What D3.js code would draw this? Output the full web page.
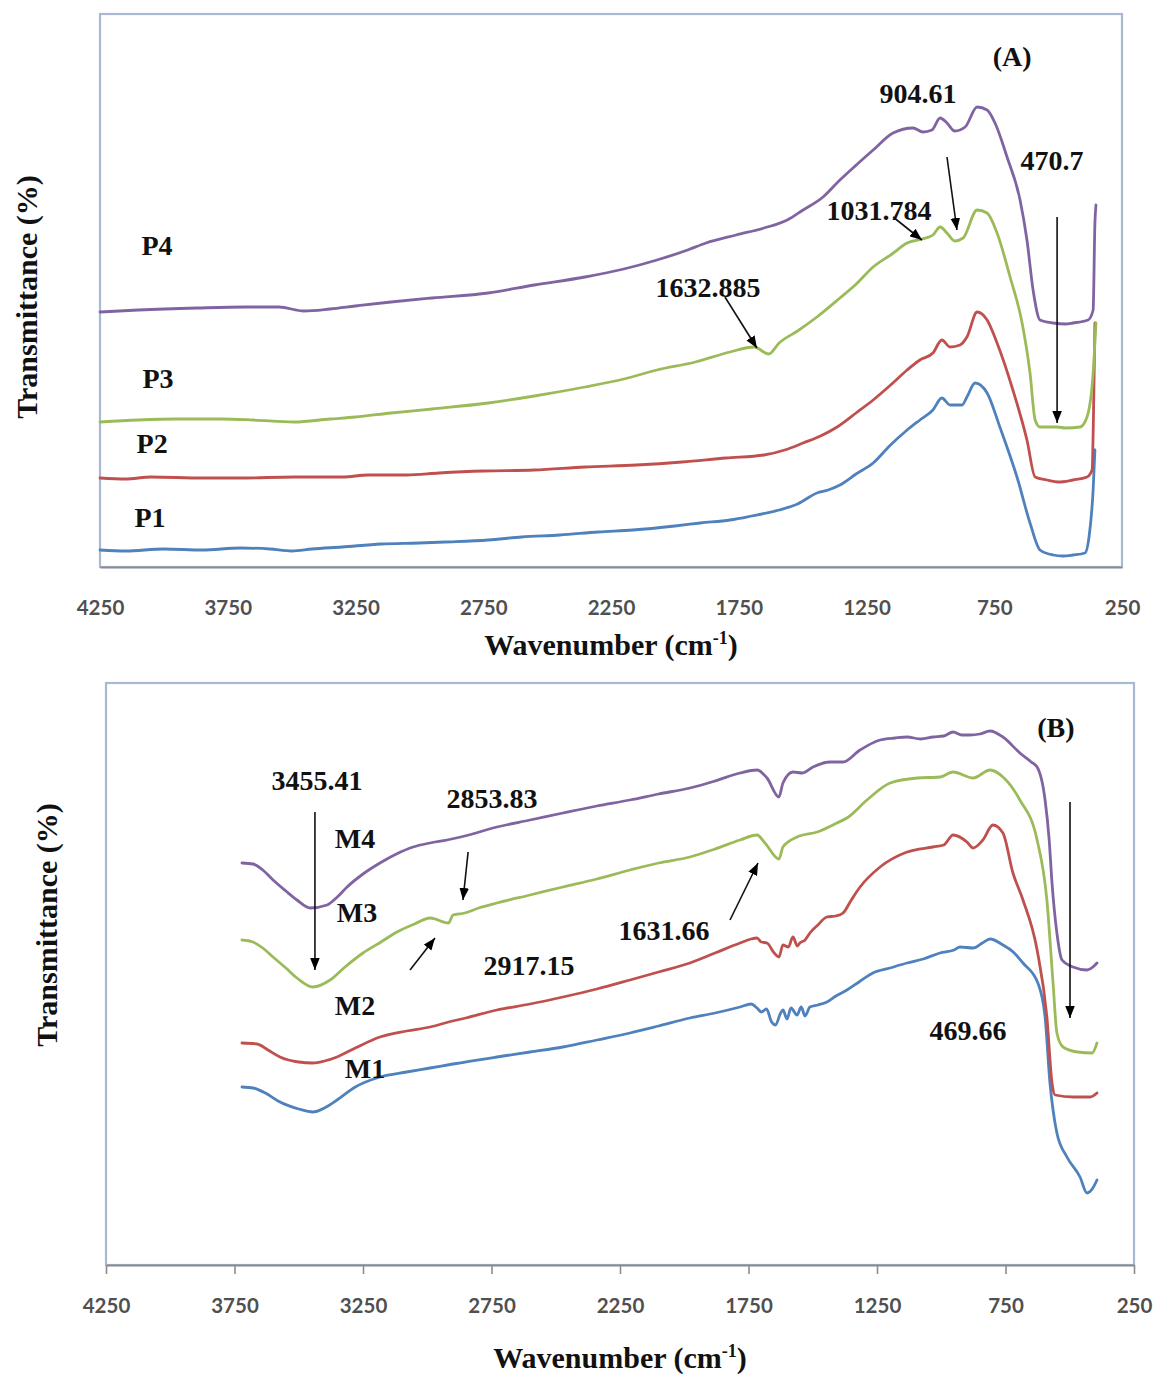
<!DOCTYPE html>
<html>
<head>
<meta charset="utf-8">
<script src="https://cdn.jsdelivr.net/npm/d3@7"></script>
<style>
  body { margin: 0; background: #ffffff; }
  svg { display: block; }
</style>
</head>
<body>
<svg id="chart" width="1159" height="1377"></svg>
<script>
// ---------- data: FTIR spectra, [wavenumber (cm-1), transmittance (offset, a.u.)] ----------
const xTickValues = [4250, 3750, 3250, 2750, 2250, 1750, 1250, 750, 250];

const seriesNamesA = ["P1", "P2", "P3", "P4"];
const seriesNamesB = ["M1", "M2", "M3", "M4"];
const seriesColors = ["#4f81bd", "#c0504d", "#9bbb59", "#8064a2"];

const p1 = [[4250,3.4],[4150,3.2],[4000,3.6],[3850,3.4],[3700,3.8],[3585,3.6],[3500,3.2],[3420,3.6],[3303,4.0],[3150,4.6],[3000,4.8],[2900,5.0],[2731,5.4],[2600,6.0],[2450,6.4],[2300,7.0],[2164,7.4],[2000,8.2],[1900,8.8],[1784,9.4],[1700,10.2],[1592,11.4],[1520,12.6],[1444,14.8],[1400,15.4],[1354,16.4],[1291,18.6],[1224,20.8],[1160,24.2],[1091,27.4],[1041,29.4],[990,31.4],[955,33.8],[923,32.4],[876,32.4],[857,34.0],[825,36.8],[778,34.8],[728,28.0],[661,18.0],[610,8.8],[571,3.4],[520,2.4],[480,2.2],[442,2.4],[395,2.8],[379,6.0],[363,15.4],[356,23.4]];

const p2 = [[4250,17.8],[4150,17.6],[4050,18.0],[3850,17.8],[3700,17.8],[3491,18.0],[3300,18.0],[3200,18.4],[3050,18.4],[2923,18.8],[2750,19.2],[2550,19.4],[2352,20.0],[2150,20.4],[1972,21.0],[1800,21.8],[1651,22.4],[1570,23.4],[1498,24.8],[1430,26.2],[1365,28.0],[1291,30.8],[1224,33.4],[1160,36.2],[1091,39.4],[1041,41.4],[990,42.8],[955,45.4],[923,44.0],[884,44.4],[857,46.0],[817,51.0],[778,49.4],[739,44.8],[677,35.4],[622,25.4],[590,18.0],[544,17.4],[500,17.0],[442,17.4],[387,18.0],[367,19.4],[360,35.4],[356,48.8]];

const p3 = [[4250,29.0],[4100,29.4],[3950,29.6],[3776,29.6],[3650,29.4],[3491,29.0],[3350,29.6],[3250,30.0],[3111,30.8],[2950,31.6],[2731,32.8],[2550,34.2],[2352,36.0],[2200,37.6],[2070,39.4],[1920,41.0],[1784,43.0],[1690,44.0],[1632.885,42.6],[1592,44.8],[1520,47.2],[1444,50.0],[1354,53.8],[1290,56.6],[1224,60.0],[1150,62.6],[1091,64.8],[1031.784,65.6],[990,66.4],[962,68.0],[935,66.8],[904.61,65.2],[872,65.8],[817,71.4],[778,70.8],[739,66.8],[688,58.0],[641,48.8],[610,38.8],[590,29.4],[571,28.0],[504,28.0],[470.7,27.8],[414,28.0],[387,30.0],[363,38.8],[352,48.8]];

const p4 = [[4250,51.0],[4100,51.4],[3870,51.8],[3682,52.0],[3550,52.0],[3452,51.2],[3350,51.6],[3250,52.2],[3111,53.0],[2950,53.8],[2731,54.8],[2550,56.4],[2352,58.0],[2200,59.6],[2070,61.4],[1950,63.4],[1878,64.8],[1760,66.4],[1651,67.8],[1560,69.4],[1498,71.4],[1420,74.0],[1354,77.4],[1290,80.4],[1224,83.4],[1146,86.8],[1068,87.8],[1029,87.0],[994,87.4],[962,89.8],[935,88.8],[904.61,87.2],[864,88.0],[817,92.0],[778,91.4],[747,88.8],[700,82.0],[649,73.4],[622,65.4],[598,55.4],[571,49.4],[520,48.8],[470.7,48.6],[442,48.8],[383,49.4],[363,51.4],[356,68.8],[352,72.4]];

const m1 = [[3721,35.6],[3678,35.4],[3630,34.4],[3573,32.6],[3500,31.2],[3445,30.6],[3400,31.4],[3351,33.0],[3280,35.6],[3184,37.6],[3080,38.6],[2989,39.4],[2900,40.2],[2729,41.6],[2600,42.6],[2472,43.6],[2340,45.0],[2211,46.4],[2100,47.8],[1978,49.4],[1880,50.4],[1783,51.6],[1740,52.2],[1717,51.4],[1700,50.6],[1680,51.2],[1660,48.6],[1645,48.0],[1625,50.4],[1616,51.0],[1600,49.2],[1585,51.4],[1561,50.0],[1545,51.6],[1530,49.8],[1511,51.6],[1480,52.0],[1445,52.6],[1410,53.8],[1367,55.0],[1320,56.6],[1266,58.4],[1200,59.4],[1133,60.4],[1070,61.2],[1005,62.4],[950,63.0],[927,63.6],[876,63.4],[840,64.4],[810,65.2],[760,64.0],[720,62.6],[682,60.4],[624,56.4],[596,49.6],[577,36.4],[565,31.0],[550,26.4],[511,21.6],[460,17.6],[433,14.4],[410,15.4],[394,17.0]];

const m2 = [[3721,44.4],[3662,44.2],[3620,43.0],[3573,41.6],[3500,40.6],[3445,40.4],[3400,40.8],[3351,41.6],[3280,43.4],[3184,45.6],[3080,46.8],[2989,47.6],[2917.15,48.6],[2850,49.4],[2729,51.0],[2600,52.2],[2472,53.6],[2340,55.2],[2211,57.0],[2100,58.6],[1978,60.4],[1880,62.4],[1783,64.4],[1740,65.2],[1717,65.4],[1700,64.6],[1678,64.4],[1650,62.4],[1631.66,61.6],[1616,64.0],[1595,63.6],[1577,65.6],[1560,63.8],[1550,64.4],[1530,65.0],[1511,66.4],[1480,68.0],[1445,69.6],[1410,69.8],[1382,70.4],[1350,73.0],[1316,75.6],[1238,79.6],[1133,82.6],[1032,83.6],[990,84.0],[954,86.0],[900,84.6],[876,83.4],[838,85.0],[799,88.0],[760,86.4],[721,78.4],[682,73.0],[627,63.0],[589,49.6],[569,36.4],[557,34.0],[487,33.6],[421,33.6],[394,34.4]];

const m3 = [[3721,65.0],[3678,64.6],[3640,63.4],[3600,61.6],[3550,59.4],[3507,57.4],[3445,55.6],[3378,57.0],[3320,59.6],[3250,62.4],[3180,64.6],[3118,66.6],[3050,68.2],[2989,69.4],[2917.15,68.4],[2900,70.0],[2853.83,70.4],[2800,71.4],[2729,72.4],[2600,74.0],[2472,75.6],[2340,77.2],[2211,79.0],[2100,80.4],[1978,81.6],[1880,83.2],[1783,85.0],[1717,86.0],[1686,84.4],[1631.66,81.2],[1616,83.6],[1561,85.6],[1483,86.6],[1406,88.4],[1367,89.4],[1289,93.0],[1199,96.4],[1094,97.4],[1005,97.6],[954,98.6],[876,97.4],[810,99.0],[760,97.6],[694,93.0],[627,85.0],[589,73.0],[565,56.4],[550,46.4],[526,43.6],[469.66,42.6],[413,42.4],[394,44.4]];

const m4 = [[3721,80.4],[3678,80.2],[3640,79.0],[3600,77.0],[3550,74.8],[3507,73.0],[3455.41,71.4],[3390,72.0],[3350,73.6],[3312,75.6],[3250,78.2],[3184,80.4],[3120,82.2],[3055,83.6],[2990,84.4],[2923,85.0],[2853.83,85.8],[2729,87.6],[2600,89.0],[2472,90.4],[2340,91.8],[2211,93.0],[2100,94.2],[1978,95.4],[1880,96.8],[1783,98.4],[1717,99.0],[1678,97.4],[1631.66,93.6],[1616,96.4],[1577,98.6],[1540,98.4],[1499,99.6],[1433,100.6],[1382,100.6],[1316,103.0],[1238,105.0],[1180,105.4],[1133,105.6],[1080,105.2],[1032,105.6],[990,105.8],[954,106.6],[920,106.0],[888,106.0],[850,106.2],[810,106.8],[760,105.6],[694,102.4],[650,100.6],[627,99.6],[596,93.0],[580,85.0],[569,76.4],[550,66.4],[530,61.0],[487,59.6],[433,59.0],[410,59.6],[394,60.4]];

// text annotations: [label, wavenumber, value]
const labelsA = [["(A)",680,100.2],["904.61",1048,92.8],["470.7",524,79.4],["1031.784",1201,69.4],["1632.885",1870,54.0],["P4",4027,62.4],["P3",4023,35.8],["P2",4046,22.8],["P1",4054,8.0]];
const labelsB = [["(B)",554,105.6],["3455.41",3429,95.0],["2853.83",2748,91.4],["M4",3281,83.4],["M3",3273,68.6],["2917.15",2604,58.0],["M2",3281,50.0],["M1",3242,37.4],["1631.66",2079,65.0],["469.66",896,45.0]];

// arrows: [fromWavenumber, fromValue, toWavenumber, toValue]
const arrowsA = [[1804,54.0,1679,43.8],[1146,70.0,1033,65.4],[935,82.0,896,67.4],[504,70.0,504,28.8]];
const arrowsB = [[3437,90.6,3437,59.0],[2841,82.6,2861,73.0],[3067,59.0,2970,65.4],[1822,69.0,1713,80.4],[499,92.6,499,49.4]];

// ---------- drawing ----------
const svg = d3.select("#chart");
const serif = "'Liberation Serif', 'Times New Roman', serif";

svg.append("defs").append("marker")
  .attr("id", "head")
  .attr("viewBox", "0 0 10 8")
  .attr("refX", 10).attr("refY", 4)
  .attr("markerUnits", "userSpaceOnUse")
  .attr("markerWidth", 12).attr("markerHeight", 10)
  .attr("orient", "auto")
  .append("path").attr("d", "M0,0 L10,4 L0,8 Z").attr("fill", "#000");

function drawPanel(cfg) {
  const x = d3.scaleLinear().domain([4250, 250]).range([cfg.left, cfg.right]);
  const y = d3.scaleLinear().domain([0, cfg.yMax]).range([cfg.bottom, cfg.top]);
  const g = svg.append("g");

  // plot-area frame
  g.append("rect")
    .attr("x", cfg.left).attr("y", cfg.top)
    .attr("width", cfg.right - cfg.left).attr("height", cfg.bottom - cfg.top)
    .attr("fill", "none").attr("stroke", "#a7b9d3").attr("stroke-width", 2.2);

  // x axis
  const axis = d3.axisBottom(x).tickValues(xTickValues).tickFormat(d3.format("d"))
    .tickSize(cfg.tickSize).tickSizeOuter(0);
  const ax = g.append("g").attr("transform", `translate(0,${cfg.bottom})`).call(axis);
  ax.select(".domain").attr("stroke", "#8c8c8c").attr("stroke-width", 2);
  ax.selectAll(".tick line").attr("stroke", "#8c8c8c").attr("stroke-width", 1.6);
  ax.selectAll(".tick text")
    .attr("y", 48).attr("dy", null)
    .attr("fill", "#505050").attr("font-family", "Lato, 'Open Sans', sans-serif")
    .attr("font-weight", "bold").attr("font-size", 20.5);

  // axis titles
  const xt = g.append("text")
    .attr("x", cfg.xTitleX).attr("y", cfg.xTitleY)
    .attr("text-anchor", "middle")
    .attr("font-family", serif).attr("font-weight", "bold").attr("font-size", 30)
    .attr("fill", "#111");
  xt.append("tspan").text("Wavenumber (cm");
  xt.append("tspan").text("-1").attr("font-size", 18).attr("dy", -11);
  xt.append("tspan").text(")").attr("dy", 11);

  g.append("text")
    .attr("transform", `translate(${cfg.yTitleX},${cfg.yTitleY}) rotate(-90)`)
    .attr("text-anchor", "middle")
    .attr("font-family", serif).attr("font-weight", "bold").attr("font-size", 30)
    .attr("fill", "#111")
    .text("Transmittance (%)");

  // spectra
  const line = d3.line().x(d => x(d[0])).y(d => y(d[1])).curve(d3.curveMonotoneX);
  cfg.series.forEach((s, i) => {
    g.append("path")
      .datum(s)
      .attr("d", line)
      .attr("fill", "none")
      .attr("stroke", seriesColors[i])
      .attr("stroke-width", 2.8)
      .attr("stroke-linejoin", "round")
      .attr("stroke-linecap", "round");
  });

  // arrows
  g.selectAll("line.arrow").data(cfg.arrows).enter().append("line")
    .attr("class", "arrow")
    .attr("x1", d => x(d[0])).attr("y1", d => y(d[1]))
    .attr("x2", d => x(d[2])).attr("y2", d => y(d[3]))
    .attr("stroke", "#111").attr("stroke-width", 1.6)
    .attr("marker-end", "url(#head)");

  // labels
  g.selectAll("text.lbl").data(cfg.labels).enter().append("text")
    .attr("class", "lbl")
    .attr("x", d => x(d[1])).attr("y", d => y(d[2]))
    .attr("text-anchor", "middle")
    .attr("font-family", serif).attr("font-weight", "bold").attr("font-size", 28)
    .attr("fill", "#111")
    .text(d => d[0]);
}

drawPanel({
  left: 100, right: 1122, top: 14, bottom: 567, yMax: 110.6, tickSize: 0,
  xTitleX: 611, xTitleY: 655, yTitleX: 37, yTitleY: 297,
  series: [p1, p2, p3, p4], labels: labelsA, arrows: arrowsA
});

drawPanel({
  left: 106, right: 1134, top: 683, bottom: 1265, yMax: 116.4, tickSize: 9,
  xTitleX: 620, xTitleY: 1368, yTitleX: 57, yTitleY: 925,
  series: [m1, m2, m3, m4], labels: labelsB, arrows: arrowsB
});
</script>
</body>
</html>
